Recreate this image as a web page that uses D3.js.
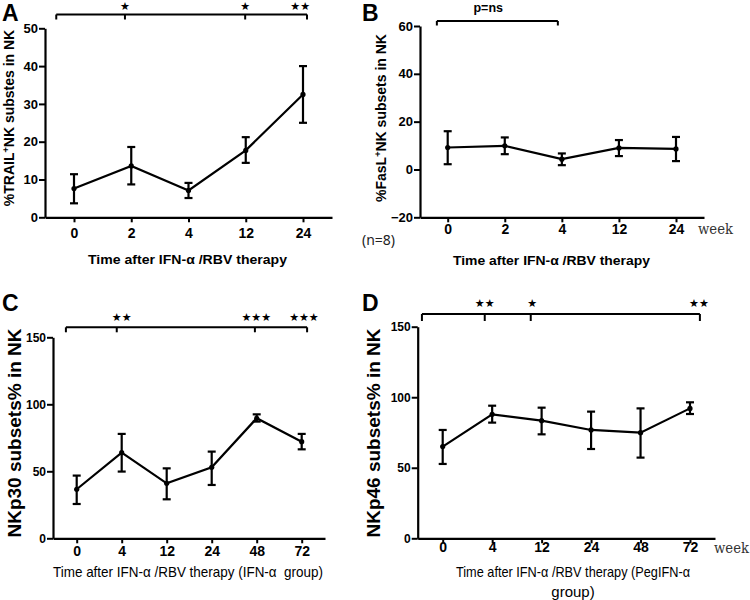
<!DOCTYPE html>
<html><head><meta charset="utf-8">
<script src="https://cdn.jsdelivr.net/npm/d3@7"></script>
<style>
body{margin:0;background:#fff;}
svg{display:block;}
</style></head>
<body>
<svg id="chart" width="750" height="600"></svg>
<script>
// ---------- DATA ----------
const weeksAB = ["0", "2", "4", "12", "24"];
const weeksCD = ["0", "4", "12", "24", "48", "72"];

const trailMean = [7.6, 13.6, 7.1, 17.7, 32.5];
const trailLow  = [3.7, 8.7, 5.1, 14.4, 25.0];
const trailHigh = [11.4, 18.6, 9.1, 21.2, 40.0];

const faslMean = [9.2, 9.9, 4.3, 9.0, 8.6];
const faslLow  = [2.2, 6.4, 1.8, 5.6, 3.5];
const faslHigh = [16.0, 13.4, 6.7, 12.3, 13.6];

const nkp30Mean = [36.6, 63.9, 41.0, 53.0, 89.6, 72.1];
const nkp30Low  = [25.6, 49.8, 29.1, 39.8, 87.1, 66.4];
const nkp30High = [46.8, 77.9, 52.2, 64.7, 92.5, 77.9];

const nkp46Mean = [65.0, 87.9, 83.4, 76.8, 74.9, 92.1];
const nkp46Low  = [52.7, 82.0, 73.7, 63.3, 57.2, 88.1];
const nkp46High = [76.8, 94.0, 92.6, 89.8, 92.1, 96.4];

const yTicksA = [0, 10, 20, 30, 40, 50];
const yTicksB = [-20, 0, 20, 40, 60];
const yTicksC = [0, 50, 100, 150];
const yTicksD = [0, 50, 100, 150];

// significance brackets (positions in category-index units)
const sigEndsA = [-0.31, 4.07], sigDropsA = [0.89, 2.99];
const sigLabelsA = ["★", "★", "★★"], sigLabelPosA = [0.89, 2.99, 3.95];
const sigEndsB = [-0.19, 1.93], sigDropsB = [];
const sigLabelsB = ["p=ns"], sigLabelPosB = [0.71];
const sigEndsC = [-0.24, 5.12], sigDropsC = [0.89, 3.96];
const sigLabelsC = ["★★", "★★★", "★★★"], sigLabelPosC = [1.0, 3.99, 5.05];
const sigEndsD = [-0.42, 5.2], sigDropsD = [0.85, 1.78];
const sigLabelsD = ["★★", "★", "★★"], sigLabelPosD = [0.85, 1.81, 5.18];

// ---------- LAYOUT ----------
const BOLD = "'Liberation Sans', Arial, Helvetica, sans-serif";
const SERIF = "'DejaVu Serif', 'Liberation Serif', serif";

const panels = [
  {letter:"A", lx:2, ly:21, cats:weeksAB, mean:trailMean, low:trailLow, high:trailHigh,
   yDom:[0,50], yTicks:yTicksA, yTop:28.3, yBot:217.3, yAxisX:45, xFirst:74, xLast:303, xEnd:332,
   tickFont:BOLD, tickSize:14, tickY:234, yTickSize:13, yTickFont:BOLD,
   ylab:[{t:"%TRAIL"},{t:"+",sup:true},{t:"NK substes in NK"}], ylabX:14, ylabY:118, ylabSize:14,
   xlab:["Time after IFN-α /RBV therapy"], xlabX:187.5, xlabY:264, xlabFont:BOLD, xlabBold:true, xlabSize:13.5, xlabLen:[199],
   sigEnds:sigEndsA, sigDrops:sigDropsA, sigLabels:sigLabelsA, sigPos:sigLabelPosA, sigY:14.5, sigDrop:5, sigLabY:9.5},
  {letter:"B", lx:362, ly:21, cats:weeksAB, mean:faslMean, low:faslLow, high:faslHigh,
   yDom:[-20,60], yTicks:yTicksB, yTop:26, yBot:217.3, yAxisX:420, xFirst:447.7, xLast:676, xEnd:704,
   tickFont:BOLD, tickSize:14, tickY:230.5, yTickSize:13, yTickFont:BOLD,
   ylab:[{t:"%FasL"},{t:"+",sup:true},{t:"NK subsets in NK"}], ylabX:386, ylabY:118, ylabSize:14,
   xlab:["Time after IFN-α /RBV therapy"], xlabX:551.5, xlabY:265, xlabFont:BOLD, xlabBold:true, xlabSize:13.5, xlabLen:[197],
   sigEnds:sigEndsB, sigDrops:sigDropsB, sigLabels:sigLabelsB, sigPos:sigLabelPosB, sigY:21, sigDrop:4.5, sigLabY:12,
   week:{x:698, y:229, w:35}, n:{x:362, y:240}},
  {letter:"C", lx:2, ly:311, cats:weeksCD, mean:nkp30Mean, low:nkp30Low, high:nkp30High,
   yDom:[0,150], yTicks:yTicksC, yTop:337.3, yBot:538.3, yAxisX:53, xFirst:76.7, xLast:301.7, xEnd:325,
   tickFont:BOLD, tickSize:14, tickY:552, yTickSize:12, yTickFont:BOLD,
   ylab:[{t:"NKp30 subsets% in NK"}], ylabX:21, ylabY:433, ylabSize:19,
   xlab:["Time after IFN-α /RBV therapy (IFN-α\u00a0 group)"], xlabX:188, xlabY:577, xlabFont:BOLD, xlabBold:false, xlabSize:15, xlabLen:[270],
   sigEnds:sigEndsC, sigDrops:sigDropsC, sigLabels:sigLabelsC, sigPos:sigLabelPosC, sigY:327.3, sigDrop:5, sigLabY:320.5},
  {letter:"D", lx:362, ly:311, cats:weeksCD, mean:nkp46Mean, low:nkp46Low, high:nkp46High,
   yDom:[0,150], yTicks:yTicksD, yTop:326.7, yBot:538.3, yAxisX:417.7, xFirst:442.7, xLast:690, xEnd:715,
   tickFont:BOLD, tickSize:14, tickY:548.5, yTickSize:12, yTickFont:BOLD,
   ylab:[{t:"NKp46 subsets% in NK"}], ylabX:380, ylabY:433, ylabSize:19,
   xlab:["Time after IFN-α /RBV therapy (PegIFN-α", "group)"], xlabX:573, xlabY:577, xlabFont:BOLD, xlabBold:false, xlabSize:15, xlabLen:[234, null],
   sigEnds:sigEndsD, sigDrops:sigDropsD, sigLabels:sigLabelsD, sigPos:sigLabelPosD, sigY:314, sigDrop:7, sigLabY:306.5,
   week:{x:714, y:548, w:35}}
];

const svg = d3.select("#chart");

panels.forEach(p => {
  const g = svg.append("g");
  const n = p.cats.length;
  const idx = d3.scaleLinear().domain([0, n - 1]).range([p.xFirst, p.xLast]);
  const x = d3.scaleLinear().domain([idx.invert(p.yAxisX), idx.invert(p.xEnd)]).range([p.yAxisX, p.xEnd]);
  const y = d3.scaleLinear().domain(p.yDom).range([p.yBot, p.yTop]);

  // panel letter
  g.append("text").attr("x", p.lx).attr("y", p.ly)
    .attr("font-family", BOLD).attr("font-weight", "bold").attr("font-size", 23).text(p.letter);

  // y axis
  const ya = g.append("g").attr("transform", `translate(${p.yAxisX},0)`)
    .call(d3.axisLeft(y).tickValues(p.yTicks).tickSize(6).tickSizeOuter(0).tickPadding(1).tickFormat(d3.format("d")));
  // x axis
  const xa = g.append("g").attr("transform", `translate(0,${p.yBot})`)
    .call(d3.axisBottom(x).tickValues(d3.range(n)).tickSize(5).tickSizeOuter(0).tickFormat(i => p.cats[i]));

  [ya, xa].forEach(a => {
    a.select(".domain").attr("stroke", "#000").attr("stroke-width", 2.2);
    a.selectAll(".tick line").attr("stroke", "#000").attr("stroke-width", 2);
  });
  ya.selectAll(".tick text").attr("font-family", p.yTickFont).attr("font-weight", "bold")
    .attr("font-size", p.yTickSize).attr("fill", "#000");
  xa.selectAll(".tick text").attr("font-family", p.tickFont).attr("font-weight", "bold")
    .attr("font-size", p.tickSize).attr("fill", "#000").attr("y", null).attr("dy", null)
    .attr("transform", `translate(0,${p.tickY - p.yBot})`).attr("dominant-baseline", "middle");

  // y label
  const yl = g.append("text").attr("transform", `translate(${p.ylabX},${p.ylabY}) rotate(-90)`)
    .attr("text-anchor", "middle").attr("font-family", BOLD).attr("font-weight", "bold").attr("font-size", p.ylabSize);
  p.ylab.forEach((s, k) => {
    const t = yl.append("tspan").text(s.t);
    if (s.sup) t.attr("font-size", p.ylabSize * 0.65).attr("dy", -5);
    else if (k > 0) t.attr("dy", 5);
  });

  // x label
  p.xlab.forEach((line, i) => {
    const t = g.append("text").attr("x", p.xlabX).attr("y", p.xlabY + i * 19.5).attr("text-anchor", "middle")
      .attr("font-family", p.xlabFont).attr("font-weight", p.xlabBold ? "bold" : "normal")
      .attr("font-size", p.xlabSize).text(line);
    if (p.xlabLen && p.xlabLen[i]) t.attr("textLength", p.xlabLen[i]).attr("lengthAdjust", "spacingAndGlyphs");
  });

  // error bars
  const cap = 4;
  const eb = g.append("g").attr("stroke", "#000").attr("stroke-width", 2.2);
  d3.range(n).forEach(i => {
    const cx = idx(i);
    eb.append("line").attr("x1", cx).attr("x2", cx).attr("y1", y(p.low[i])).attr("y2", y(p.high[i]));
    eb.append("line").attr("x1", cx - cap).attr("x2", cx + cap).attr("y1", y(p.low[i])).attr("y2", y(p.low[i]));
    eb.append("line").attr("x1", cx - cap).attr("x2", cx + cap).attr("y1", y(p.high[i])).attr("y2", y(p.high[i]));
  });
  // mean line
  g.append("path").datum(d3.range(n))
    .attr("fill", "none").attr("stroke", "#000").attr("stroke-width", 2.2)
    .attr("d", d3.line().x(i => idx(i)).y(i => y(p.mean[i])));
  g.selectAll(null).data(d3.range(n)).enter().append("circle")
    .attr("cx", i => idx(i)).attr("cy", i => y(p.mean[i])).attr("r", 2.6).attr("fill", "#000");

  // significance bracket
  const sb = g.append("g").attr("stroke", "#000").attr("stroke-width", 2).attr("fill", "none");
  sb.append("line").attr("x1", idx(p.sigEnds[0])).attr("x2", idx(p.sigEnds[1])).attr("y1", p.sigY).attr("y2", p.sigY);
  p.sigEnds.concat(p.sigDrops).forEach(v => {
    sb.append("line").attr("x1", idx(v)).attr("x2", idx(v)).attr("y1", p.sigY).attr("y2", p.sigY + p.sigDrop);
  });
  p.sigLabels.forEach((s, i) => {
    const isStar = s.indexOf("★") >= 0;
    g.append("text").attr("x", idx(p.sigPos[i])).attr("y", p.sigLabY).attr("text-anchor", "middle")
      .attr("font-family", isStar ? "'DejaVu Sans', sans-serif" : BOLD)
      .attr("font-weight", isStar ? "normal" : "bold")
      .attr("font-size", isStar ? 11 : 12.5).text(s);
  });

  if (p.week) {
    g.append("text").attr("x", p.week.x).attr("y", p.week.y + 5).attr("font-family", SERIF)
      .attr("font-size", 14).attr("fill", "#333").attr("textLength", p.week.w)
      .attr("lengthAdjust", "spacingAndGlyphs").text("week");
  }
  if (p.n) {
    g.append("text").attr("x", p.n.x).attr("y", p.n.y + 5).attr("font-family", "'Noto Sans', 'DejaVu Sans', sans-serif")
      .attr("font-size", 14).attr("fill", "#222").text("(n=8)");
  }
});
</script>
</body></html>
